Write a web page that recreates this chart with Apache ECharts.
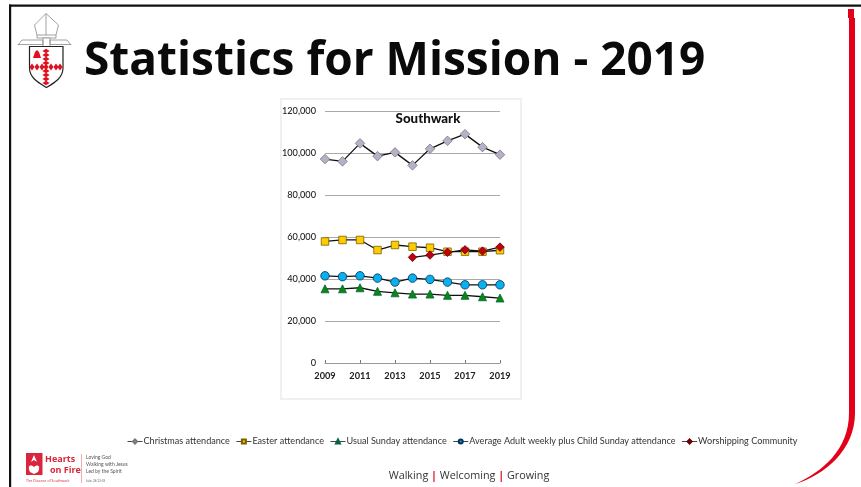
<!DOCTYPE html>
<html><head><meta charset="utf-8">
<style>html,body{margin:0;padding:0;background:#fff}#c{width:861px;height:487px}</style>
<script src="https://cdn.jsdelivr.net/npm/echarts@6/dist/echarts.min.js"></script>
</head><body><div id="c"></div>
<script>
const years = ['2009','2010','2011','2012','2013','2014','2015','2016','2017','2018','2019'];
const christmas = [97300,96200,104800,98700,100500,94300,102200,106000,109200,103000,99400];
const easter = [58000,58700,58700,53900,56300,55500,55000,53100,53100,53100,53800];
const usualSunday = [35400,35400,35900,34200,33500,32900,32900,32300,32300,31600,31000];
const adultChild = [41600,41200,41600,40500,38600,40500,39900,38600,37300,37300,37300];
const worshipping = [null,null,null,null,null,50400,51500,52800,54000,53400,55300];
const yTicks = [0,20000,40000,60000,80000,100000,120000];

const RED='#e2001a', LF='Lato, sans-serif';
function s(name,data,symbol,size,color,border){
  return {name,type:'line',data,symbol,symbolSize:size,showSymbol:true,showAllSymbol:true,connectNulls:false,
    lineStyle:{color:'#111',width:1.3},
    itemStyle:{color,borderColor:border,borderWidth:0.8},z:3};
}
const g=[];
let pn=0;
function P(d,style){const n='decoPath'+(pn++);echarts.graphic.registerShape(n,echarts.graphic.extendPath(d,{}));g.push({type:n,style});}
// panel behind chart
g.push({type:'rect',z:-1,silent:true,shape:{x:281,y:99,width:240,height:300},style:{fill:'#fff',stroke:'#f0f0f0',lineWidth:2}});
// frame
g.push({type:'rect',shape:{x:9,y:4.5,width:852,height:2.2},style:{fill:'#111'}});
g.push({type:'rect',shape:{x:9,y:4.5,width:2.2,height:483},style:{fill:'#111'}});
// red border
P('M848,9 L854,9 L854,18 L855,18 L855,413 C855,450 825,475 795,484 C822,472 849,450 849,413 L849,18 L848,18 Z',{fill:RED});
// crest
const grey='#8a8a8a';
P('M46,13.5 L58.5,25 L56,35 L37,35 L34.5,25 Z M46,13.5 L46,35 M37,35 L37,38 L56,38 L56,35',{fill:'#fff',stroke:grey,lineWidth:0.8});
P('M43,38 L50,38 L50,47 L43,47 Z M18,45 L22,40 L43,40 L43,44.5 L18,44.5 Z M71,45 L67,40 L50,40 L50,44.5 L71,44.5 Z',{fill:'#fff',stroke:grey,lineWidth:0.8});
P('M29.5,46.5 L63,46.5 L63,68 C63,78 54,83 46.5,87.5 C39,83 29.5,78 29.5,68 Z',{fill:'#fff',stroke:'#222',lineWidth:1.2});
function dia(x,y,w,h){g.push({type:'polygon',shape:{points:[[x,y-h],[x+w,y],[x,y+h],[x-w,y]]},style:{fill:'#e0101e'}});}
[51,55,59,63,71,75,79,83].forEach(y=>dia(46,y,3.6,2.2));
[32,37,42,46,51,56,60].forEach(x=>dia(x,67,2.5,3.4));
P('M33,58 L35,52 L37,50 L39,52 L41,58 Z',{fill:'#e0101e'});
// Title
g.push({type:'text',style:{x:84,y:62,text:'Statistics for Mission - 2019',fill:'#0a0a0a',font:'bold 46px "Open Sans", sans-serif',verticalAlign:'middle'}});
// Logo
g.push({type:'rect',shape:{x:26,y:453,width:16.5,height:22},style:{fill:'#d9263c'}});
P('M30,472 C27,466 30,464 34,467 C38,464 41,466 38,472 L34,474 Z M34,455 L31,462 L34,460 L37,462 Z',{fill:'#fff'});
g.push({type:'text',style:{x:45,y:459,text:'Hearts',fill:'#d9263c',font:'bold 9px "Open Sans", sans-serif',verticalAlign:'middle'}});
g.push({type:'text',style:{x:50,y:470,text:'on Fire',fill:'#d9263c',font:'bold 9px "Open Sans", sans-serif',verticalAlign:'middle'}});
g.push({type:'text',style:{x:26,y:481,text:'The Diocese of Southwark',fill:'#d9263c',font:'3.6px "Open Sans", sans-serif',verticalAlign:'middle'}});
g.push({type:'rect',shape:{x:81,y:454,width:0.7,height:29},style:{fill:'#e88'}});
[['Loving God',457.5],['Walking with Jesus',464.5],['Led by the Spirit',471.5]].forEach(t=>g.push({type:'text',style:{x:86,y:t[1],text:t[0],fill:'#555',font:'5px Lato, sans-serif',verticalAlign:'middle'}}));
g.push({type:'text',style:{x:86,y:481,text:'Luke 24:13-35',fill:'#666',font:'3px Lato, sans-serif',verticalAlign:'middle'}});
// tagline
g.push({type:'text',style:{x:469,y:476,align:'center',verticalAlign:'middle',text:'{a|Walking }{r||}{a| Welcoming }{r||}{a| Growing}',rich:{a:{fill:'#333',fontSize:10.8,fontFamily:'"Open Sans", sans-serif'},r:{fill:RED,fontSize:10.8,fontWeight:'bold',fontFamily:'"Open Sans", sans-serif'}}}});

const chart=echarts.init(document.getElementById('c'),null,{renderer:'canvas'});
chart.setOption({
  animation:false,backgroundColor:'#fff',
  title:{text:'Southwark',left:425,top:112,textAlign:'center',backgroundColor:'#fff',padding:[0,3],z:2,
    textStyle:{fontFamily:LF,fontWeight:900,fontSize:13.3,color:'#111'}},
  grid:{left:325,top:111.5,width:175,height:251.5,containLabel:false},
  legend:{left:127,top:437,width:720,itemGap:6,itemWidth:15,itemHeight:5,padding:0,
    lineStyle:{width:1,color:'#444'},
    textStyle:{fontFamily:LF,fontSize:9.1,color:'#333',padding:[0,0,0,-4]}},
  xAxis:{type:'category',boundaryGap:false,data:years,
    axisLine:{lineStyle:{color:'#999'}},
    axisTick:{inside:true,length:3,interval:1,lineStyle:{color:'#777'}},
    axisLabel:{interval:1,margin:9,fontFamily:LF,fontSize:9.2,color:'#222',fontWeight:700,showMinLabel:true,showMaxLabel:true},
    splitLine:{show:false}},
  yAxis:{type:'value',min:yTicks[0],max:yTicks[yTicks.length-1],interval:yTicks[1]-yTicks[0],
    axisLine:{show:false},axisTick:{show:false},
    axisLabel:{margin:9,fontFamily:LF,fontSize:9.2,color:'#222',fontWeight:500,formatter:v=>v.toLocaleString('en-US')},
    splitLine:{show:true,lineStyle:{color:'#aaa',width:1}}},
  series:[
    s('Christmas attendance',christmas,'diamond',9.5,'#b9afc9','#777'),
    s('Easter attendance',easter,'rect',7.5,'#ffcc00','#7a6000'),
    s('Usual Sunday attendance',usualSunday,'triangle',8,'#0a8a0a','#064'),
    s('Average Adult weekly plus Child Sunday attendance',adultChild,'circle',8.5,'#0ab0ee','#035'),
    s('Worshipping Community',worshipping,'diamond',8.5,'#c00010','#600')
  ],
  graphic:g
});
</script></body></html>
